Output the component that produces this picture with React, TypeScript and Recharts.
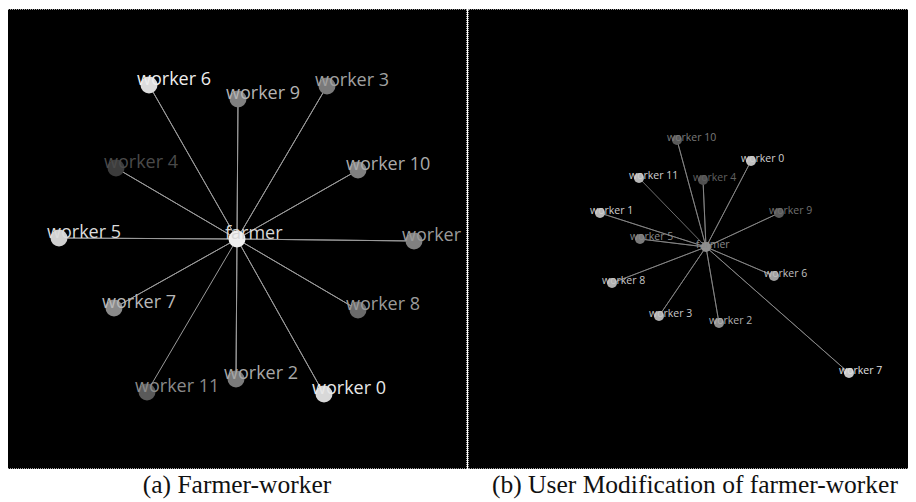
import React from 'react';
import { ScatterChart, Scatter, XAxis, YAxis } from 'recharts';

// node names, index = worker number
const WORKERS = [
  'worker 0', 'worker 1', 'worker 2', 'worker 3', 'worker 4', 'worker 5',
  'worker 6', 'worker 7', 'worker 8', 'worker 9', 'worker 10', 'worker 11',
];
const HUB = 'farmer';

// (a) layout, offset from the farmer (y up)
const A_X = [87, 177, -1, 90, -121, -178, -88, -123, 121, 1, 121, -90];
const A_Y = [-155, -2, -140, 153, 71, 1, 154, -69, -71, 140, 69, -153];

// (b) layout after the user dragged nodes around
const B_X = [45, -106, 13, -47, -3, -66, 68, 143, -94, 73, -29, -67];
const B_Y = [86, 34, -76, -69, 67, 8, -29, -126, -36, 34, 107, 69];

// grey shade of each node / label (last entry = farmer)
const A_NODE = ['#d8d8d8', '#808080', '#7a7a7a', '#7a7a7a', '#3c3c3c', '#d0d0d0', '#dcdcdc', '#8a8a8a', '#6a6a6a', '#808080', '#808080', '#5a5a5a', '#f0f0f0'];
const A_TEXT = ['#e8e8e8', '#9a9a9a', '#a8a8a8', '#a0a0a0', '#4a4a4a', '#dcdcdc', '#eeeeee', '#b8b8b8', '#9a9a9a', '#b4b4b4', '#aaaaaa', '#8a8a8a', '#d8d8d8'];
const B_NODE = ['#c0c0c0', '#b8b8b8', '#909090', '#b0b0b0', '#505050', '#7a7a7a', '#a0a0a0', '#c8c8c8', '#b0b0b0', '#5a5a5a', '#5a5a5a', '#b8b8b8', '#909090'];
const B_TEXT = ['#d0d0d0', '#d0d0d0', '#b0b0b0', '#c8c8c8', '#606060', '#8a8a8a', '#c0c0c0', '#e0e0e0', '#c8c8c8', '#707070', '#7a7a7a', '#d0d0d0', '#8a8a8a'];

type Node = { name: string; x: number; y: number; fill: string; text: string };

const buildNodes = (xs: number[], ys: number[], fills: string[], texts: string[]): Node[] => [
  ...WORKERS.map((name, i) => ({ name, x: xs[i], y: ys[i], fill: fills[i], text: texts[i] })),
  { name: HUB, x: 0, y: 0, fill: fills[12], text: texts[12] },
];

// star edges: farmer -> w0 -> farmer -> w1 ... so one polyline draws every spoke
const buildEdges = (xs: number[], ys: number[]) => {
  const pts: { x: number; y: number }[] = [];
  WORKERS.forEach((_, i) => {
    pts.push({ x: 0, y: 0 });
    pts.push({ x: xs[i], y: ys[i] });
  });
  return pts;
};

const NODES_A = buildNodes(A_X, A_Y, A_NODE, A_TEXT);
const NODES_B = buildNodes(B_X, B_Y, B_NODE, B_TEXT);
const EDGES_A = buildEdges(A_X, A_Y);
const EDGES_B = buildEdges(B_X, B_Y);

const makeNode = (r: number, fontSize: number, dx: number, dy: number) => (props: any) => {
  const { cx, cy, payload } = props;
  if (cx == null || cy == null) return <g />;
  return (
    <g>
      <circle cx={cx} cy={cy} r={r} fill={payload.fill} />
      <text
        x={cx + dx}
        y={cy + dy}
        fill={payload.text}
        fontSize={fontSize}
        fontFamily="'Open Sans', sans-serif"
      >
        {payload.name}
      </text>
    </g>
  );
};

type PanelProps = {
  width: number;
  height: number;
  xDomain: [number, number];
  yDomain: [number, number];
  nodes: Node[];
  edges: { x: number; y: number }[];
  edgeColor: string;
  edgeWidth: number;
  r: number;
  fontSize: number;
  dx: number;
  dy: number;
};

const Graph = (p: PanelProps) => (
  <ScatterChart width={p.width} height={p.height} margin={{ top: 0, right: 0, bottom: 0, left: 0 }}>
    <XAxis type="number" dataKey="x" domain={p.xDomain} hide allowDataOverflow />
    <YAxis type="number" dataKey="y" domain={p.yDomain} hide allowDataOverflow />
    <Scatter
      data={p.edges}
      line={{ stroke: p.edgeColor, strokeWidth: p.edgeWidth }}
      shape={() => <g />}
      isAnimationActive={false}
    />
    <Scatter data={p.nodes} shape={makeNode(p.r, p.fontSize, p.dx, p.dy)} isAnimationActive={false} />
  </ScatterChart>
);

const panelStyle: React.CSSProperties = {
  position: 'absolute',
  top: 1,
  height: 458,
  background: '#000',
  border: '1px dotted #a0a0a0',
  overflow: 'hidden',
};

const captionStyle: React.CSSProperties = {
  position: 'absolute',
  top: 464,
  fontFamily: "'Liberation Serif', serif",
  fontSize: 25.5,
  lineHeight: '25px',
  color: '#111',
  whiteSpace: 'nowrap',
};

export default function App() {
  return (
    <div style={{ position: 'relative', width: 908, height: 494 }}>
      <div style={{ ...panelStyle, left: -1, width: 458 }}>
        <Graph
          width={458}
          height={458}
          xDomain={[-229, 229]}
          yDomain={[-229, 229]}
          nodes={NODES_A}
          edges={EDGES_A}
          edgeColor="#9a9a9a"
          edgeWidth={1}
          r={8.5}
          fontSize={18}
          dx={-12}
          dy={0}
        />
      </div>
      <div style={{ ...panelStyle, left: 460, width: 447, borderRight: 'none' }}>
        <Graph
          width={447}
          height={458}
          xDomain={[-237, 210]}
          yDomain={[-221, 237]}
          nodes={NODES_B}
          edges={EDGES_B}
          edgeColor="#8a8a8a"
          edgeWidth={0.8}
          r={5}
          fontSize={10.5}
          dx={-10}
          dy={1}
        />
      </div>
      <div style={{ ...captionStyle, left: 0, width: 458, textAlign: 'center' }}>(a) Farmer-worker</div>
      <div style={{ ...captionStyle, left: 484 }}>(b) User Modification of farmer-worker</div>
    </div>
  );
}
